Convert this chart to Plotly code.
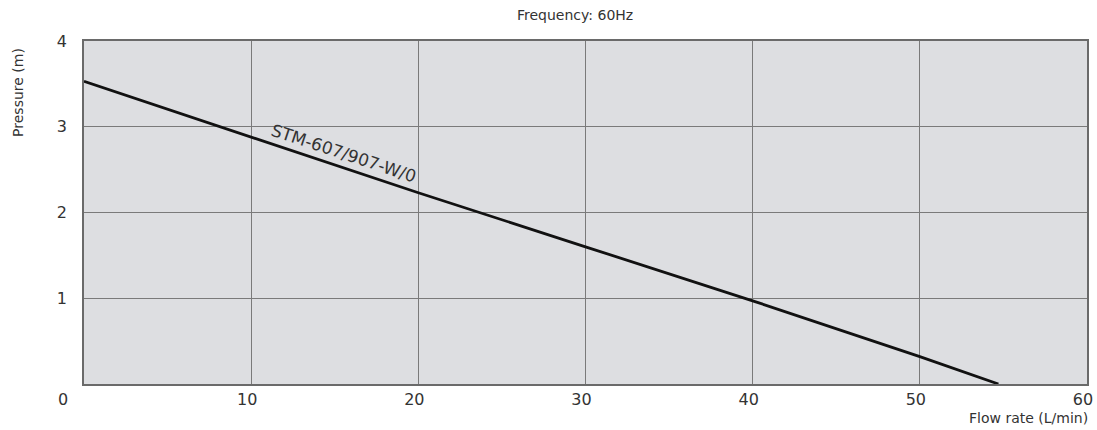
import plotly.graph_objects as go

flow = [0, 10, 20, 30, 40, 50, 54.7]
pressure = [3.53, 2.88, 2.23, 1.6, 0.97, 0.32, 0]
x_ticks = [10, 20, 30, 40, 50, 60]
y_ticks = [1, 2, 3, 4]
curve_name = "STM-607/907-W/0"

FONT = "DejaVu Sans"
TXT = "#333333"

fig = go.Figure()
fig.add_trace(go.Scatter(x=flow, y=pressure, mode="lines",
                         line=dict(color="#111111", width=2.8),
                         showlegend=False, hoverinfo="skip"))

fig.update_layout(
    width=1097, height=430,
    margin=dict(l=84, r=10, t=41, b=46, autoexpand=False),
    paper_bgcolor="white", plot_bgcolor="#dddee1",
    font=dict(family=FONT, color=TXT, size=15),
    showlegend=False,
)
fig.update_xaxes(range=[0, 60], tickvals=x_ticks, ticktext=[str(v) for v in x_ticks],
                 showgrid=True, gridcolor="#7a7a7a", gridwidth=1.3,
                 showline=True, linecolor="#6a6a6a", linewidth=1.6, mirror=True,
                 zeroline=False, ticks="", ticklabelstandoff=0, ticklabelshift=-4,
                 automargin=False, tickfont=dict(size=16, color=TXT))
fig.update_yaxes(range=[0, 4], tickvals=y_ticks, ticktext=[str(v) for v in y_ticks],
                 showgrid=True, gridcolor="#7a7a7a", gridwidth=1.3,
                 showline=True, linecolor="#6a6a6a", linewidth=1.6, mirror=True,
                 zeroline=False, ticks="", ticklabelstandoff=12,
                 automargin=False, tickfont=dict(size=16, color=TXT))

annots = [
    dict(text="Frequency: 60Hz", x=0.49, y=1, xref="paper", yref="paper",
         xanchor="center", yanchor="middle", yshift=26, showarrow=False,
         font=dict(size=14, color=TXT)),
    dict(text="Pressure (m)", x=-0.066, y=0.851, xref="paper", yref="paper",
         xanchor="center", yanchor="middle",
         textangle=-90, showarrow=False, font=dict(size=14, color=TXT)),
    dict(text="Flow rate (L/min)", x=1.003, y=0, xref="paper", yref="paper",
         xanchor="right", yanchor="middle", yshift=-34, showarrow=False,
         font=dict(size=14, color=TXT)),
    dict(text="0", x=0, y=0, xref="x", yref="y", xanchor="center", yanchor="middle",
         xshift=-21, yshift=-15, showarrow=False, font=dict(size=16, color=TXT)),
    dict(text=curve_name, x=15.5, y=2.69, xref="x", yref="y", textangle=18.3,
         xanchor="center", yanchor="middle",
         showarrow=False, font=dict(size=17, color=TXT)),
]
fig.update_layout(annotations=annots)

fig.write_html("out.html", config={"displayModeBar": False},
               post_script="document.body.style.margin='0';")
